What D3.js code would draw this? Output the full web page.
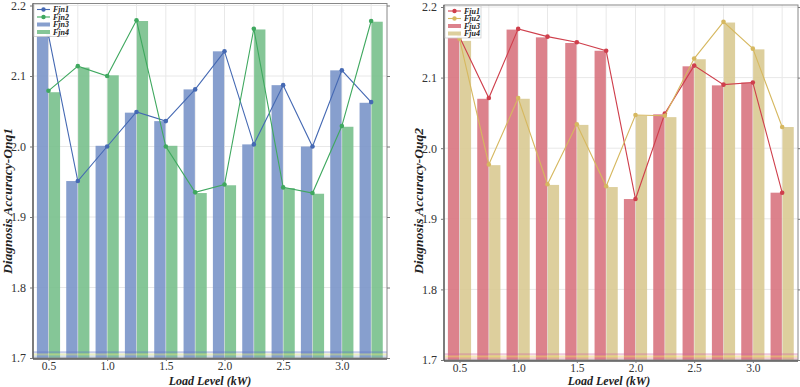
<!DOCTYPE html>
<html><head><meta charset="utf-8">
<script src="https://cdn.jsdelivr.net/npm/d3@7/dist/d3.min.js"></script>
<style>
body{margin:0;background:#fff;}
svg text{font-family:"Liberation Serif","Times New Roman",serif;}
</style></head>
<body><svg id="c" width="800" height="387"></svg>
<script>
const loads = [0.5,0.75,1.0,1.25,1.5,1.75,2.0,2.25,2.5,2.75,3.0,3.25];
const xTicks = [0.5,1.0,1.5,2.0,2.5,3.0];
const yTicks = [1.7,1.8,1.9,2.0,2.1,2.2];
// left panel
const Fjn1 = [2.158,1.951,2.000,2.049,2.036,2.081,2.135,2.003,2.087,2.000,2.108,2.063];
const Fjn2 = [2.079,2.114,2.100,2.179,2.000,1.935,1.946,2.167,1.942,1.934,2.029,2.178];
const Fjn3 = [2.157,1.951,2.001,2.048,2.036,2.081,2.135,2.003,2.087,2.000,2.108,2.062];
const Fjn4 = [2.077,2.112,2.101,2.178,2.001,1.934,1.945,2.166,1.941,1.933,2.028,2.177];
// right panel
const Fju1 = [2.158,2.071,2.169,2.158,2.150,2.138,1.928,2.049,2.117,2.090,2.093,1.937];
const Fju2 = [2.155,1.977,2.071,1.949,2.034,1.946,2.047,2.046,2.127,2.179,2.141,2.030];
const Fju3 = [2.157,2.070,2.168,2.157,2.149,2.138,1.928,2.048,2.116,2.089,2.093,1.937];
const Fju4 = [2.152,1.976,2.070,1.948,2.033,1.945,2.046,2.044,2.126,2.178,2.140,2.030];

const svg = d3.select("#c");

function panel(cfg){
  const g = svg.append("g");
  const x = d3.scaleLinear().domain([0.368,3.385]).range([cfg.x0,cfg.x1]);
  const y = d3.scaleLinear().domain([1.7,2.2]).range([cfg.yb,cfg.yt]);
  const step = x(0.25)-x(0);
  const bw = step*0.385;
  // grid
  g.append("g").selectAll("line").data(loads).join("line")
    .attr("x1",d=>x(d)).attr("x2",d=>x(d)).attr("y1",cfg.yt-2).attr("y2",cfg.yb)
    .attr("stroke","#e8e8e8").attr("stroke-width",1);
  g.append("g").selectAll("line").data(yTicks).join("line")
    .attr("x1",cfg.x0).attr("x2",cfg.x1).attr("y1",d=>y(d)).attr("y2",d=>y(d))
    .attr("stroke","#e8e8e8").attr("stroke-width",1);
  // bars
  g.append("g").selectAll("rect").data(cfg.barA).join("rect")
    .attr("x",(d,i)=>x(loads[i])-bw-0.3).attr("width",bw)
    .attr("y",d=>y(d)).attr("height",d=>y(1.7)-y(d))
    .attr("fill",cfg.cA).attr("opacity",0.9);
  g.append("g").selectAll("rect").data(cfg.barB).join("rect")
    .attr("x",(d,i)=>x(loads[i])+0.3).attr("width",bw)
    .attr("y",d=>y(d)).attr("height",d=>y(1.7)-y(d))
    .attr("fill",cfg.cB).attr("opacity",0.9);
  // bottom faint band
  const band = [[1.708,cfg.band[0],0.35],[1.705,cfg.band[1],0.45],[1.702,cfg.band[2],0.35]];
  g.append("g").selectAll("line").data(band).join("line")
    .attr("x1",cfg.x0).attr("x2",cfg.x1).attr("y1",d=>y(d[0])).attr("y2",d=>y(d[0]))
    .attr("stroke",d=>d[1]).attr("stroke-width",2).attr("opacity",d=>d[2]);
  // lines
  const ln = d3.line().x((d,i)=>x(loads[i])).y(d=>y(d));
  [[cfg.lineA,cfg.lA],[cfg.lineB,cfg.lB]].forEach(([arr,col])=>{
    g.append("path").datum(arr).attr("d",ln).attr("fill","none")
      .attr("stroke",col).attr("stroke-width",1.1);
    g.append("g").selectAll("circle").data(arr).join("circle")
      .attr("cx",(d,i)=>x(loads[i])).attr("cy",d=>y(d)).attr("r",2.3).attr("fill",col);
  });
  // frame
  g.append("rect").attr("x",cfg.x0).attr("y",cfg.yt-2).attr("width",cfg.x1-cfg.x0)
    .attr("height",cfg.yb-cfg.yt+2).attr("fill","none").attr("stroke","#888").attr("stroke-width",1);
  g.append("line").attr("x1",cfg.x0).attr("x2",cfg.x0).attr("y1",cfg.yt-2).attr("y2",cfg.yb+1)
    .attr("stroke","#555").attr("stroke-width",1.3);
  g.append("line").attr("x1",cfg.x0).attr("x2",cfg.x1).attr("y1",cfg.yb+1).attr("y2",cfg.yb+1)
    .attr("stroke","#555").attr("stroke-width",1.3);
  // axes
  const ya = g.append("g").attr("transform",`translate(${cfg.x0},0)`)
    .call(d3.axisLeft(y).tickValues(yTicks).tickFormat(d3.format(".1f")).tickSize(3).tickPadding(4));
  ya.select(".domain").remove();
  ya.selectAll("line").attr("stroke","#777");
  ya.selectAll("text").attr("font-size",12).attr("fill","#333");
  const yr = g.append("g").attr("transform",`translate(${cfg.x1},0)`)
    .call(d3.axisRight(y).tickValues(yTicks).tickFormat("").tickSize(3));
  yr.select(".domain").remove(); yr.selectAll("line").attr("stroke","#777");
  const xa = g.append("g").attr("transform",`translate(0,${cfg.yb+1})`)
    .call(d3.axisBottom(x).tickValues(xTicks).tickFormat(d3.format(".1f")).tickSize(2).tickPadding(1));
  xa.select(".domain").remove();
  xa.selectAll("line").attr("stroke","#777");
  xa.selectAll("text").attr("font-size",11.5).attr("fill","#333");
  // titles
  g.append("text").attr("x",(cfg.x0+cfg.x1)/2-(cfg.x0>400?12:0)).attr("y",385)
    .attr("text-anchor","middle").attr("font-size",12).attr("font-weight","bold")
    .attr("font-style","italic").attr("fill","#222").text("Load Level (kW)");
  g.append("text").attr("transform",`translate(${cfg.x0-21},${201}) rotate(-90)`)
    .attr("text-anchor","middle").attr("font-size",13.5).attr("font-weight","bold")
    .attr("font-style","italic").attr("fill","#222").text(cfg.ytitle);
  // legend
  const lg = g.append("g").attr("transform",`translate(${cfg.x0+1},${cfg.yt-1})`);
  lg.append("rect").attr("width",cfg.lgw).attr("height",32).attr("fill","#fff")
    .attr("stroke","#ccc").attr("stroke-width",0.8).attr("opacity",0.95);
  const items = [
    {n:cfg.names[0],c:cfg.lA,t:"line"},{n:cfg.names[1],c:cfg.lB,t:"line"},
    {n:cfg.names[2],c:cfg.cA,t:"bar"},{n:cfg.names[3],c:cfg.cB,t:"bar"}];
  items.forEach((it,i)=>{
    const yy = 5+i*7.5;
    if(it.t==="line"){
      lg.append("line").attr("x1",3).attr("x2",16).attr("y1",yy).attr("y2",yy)
        .attr("stroke",it.c).attr("stroke-width",1.1);
      lg.append("circle").attr("cx",9.5).attr("cy",yy).attr("r",2.2).attr("fill",it.c);
    } else {
      lg.append("rect").attr("x",3).attr("y",yy-2).attr("width",13).attr("height",4)
        .attr("fill",it.c).attr("opacity",0.9);
    }
    lg.append("text").attr("x",19).attr("y",yy+2.6).attr("font-size",8)
      .attr("font-weight","bold").attr("font-style","italic").attr("fill","#222").text(it.n);
  });
}

panel({x0:33,x1:387,yt:5.5,yb:358,barA:Fjn3,barB:Fjn4,lineA:Fjn1,lineB:Fjn2,
  cA:"#7a95c9",cB:"#78c08c",lA:"#4569b3",lB:"#3fa85f",
  band:["#5a6fc8","#d8e07a","#7a9fd0"],
  names:["Fjn1","Fjn2","Fjn3","Fjn4"],ytitle:"Diagnosis Accuracy-Onq1",lgw:33});
panel({x0:444,x1:798,yt:7,yb:360,barA:Fju3,barB:Fju4,lineA:Fju1,lineB:Fju2,
  cA:"#d87480",cB:"#d9ca92",lA:"#cf3f4c",lB:"#d6b860",
  band:["#d060a0","#f0d860","#e07090"],
  names:["Fju1","Fju2","Fju3","Fju4"],ytitle:"Diagnosis Accuracy-Ouq2",lgw:36});
</script></body></html>
